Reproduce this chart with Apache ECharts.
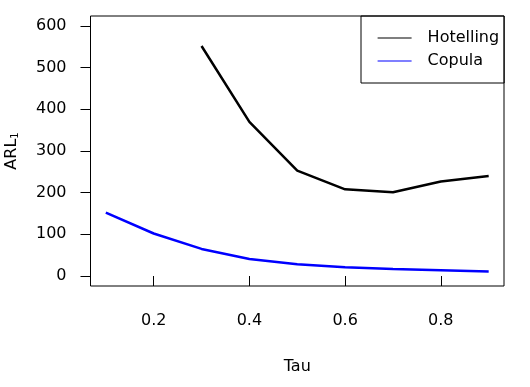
<!DOCTYPE html>
<html>
<head>
<meta charset="utf-8">
<script src="https://cdn.jsdelivr.net/npm/echarts@6/dist/echarts.min.js"></script>
<style>
html,body{margin:0;padding:0;background:#fff;}
#chart{width:530px;height:387px;}
</style>
</head>
<body>
<div id="chart"></div>
<script>
const tau = [0.1, 0.2, 0.3, 0.4, 0.5, 0.6, 0.7, 0.8, 0.9];
const hotelling = [null, null, 552, 370, 253, 208, 201, 227, 240];
const copula = [152, 102, 65, 41, 28, 21, 17, 14, 11];
const xTicks = [0.2, 0.4, 0.6, 0.8];
const yTicks = [0, 100, 200, 300, 400, 500, 600];

const FONT = 'DejaVu Sans';
const FS = 16;
const chart = echarts.init(document.getElementById('chart'));
const pairs = (ys) => tau.map((t, i) => [t, ys[i]]);

chart.setOption({
  animation: false,
  backgroundColor: '#fff',
  textStyle: { fontFamily: FONT, color: '#000' },
  grid: {
    left: 90.5, right: 26, top: 16, bottom: 101,
    containLabel: false, outerBoundsMode: 'none',
    show: true, borderColor: '#000', borderWidth: 1, backgroundColor: '#fff'
  },
  legend: {
    left: 361, top: 16,
    orient: 'vertical',
    borderColor: '#000', borderWidth: 1, borderRadius: 0,
    padding: [14, 5, 14, 16],
    itemWidth: 34, itemHeight: 14, itemGap: 7,
    itemStyle: { color: 'transparent', borderWidth: 0 },
    lineStyle: { width: 1.2 },
    textStyle: { fontFamily: FONT, fontSize: FS, color: '#000', padding: [0, 0, 0, 11] },
    data: ['Hotelling', 'Copula']
  },
  xAxis: {
    type: 'value',
    min: 0.068, max: 0.932,
    name: 'Tau', nameLocation: 'middle', nameGap: 73,
    nameTextStyle: { fontFamily: FONT, fontSize: FS, color: '#000' },
    axisLine: { show: false },
    splitLine: { show: false },
    axisTick: { show: true, length: 10, customValues: xTicks, lineStyle: { color: '#000' } },
    axisLabel: { customValues: xTicks, margin: 27, fontFamily: FONT, fontSize: FS, color: '#000',
      formatter: v => v.toFixed(1) }
  },
  yAxis: {
    type: 'value',
    min: -24, max: 624,
    name: 'ARL{sub|1}', nameLocation: 'middle', nameGap: 70, nameRotate: 90,
    nameTextStyle: { fontFamily: FONT, fontSize: FS, color: '#000',
      rich: { sub: { fontFamily: FONT, fontSize: 10, color: '#000', padding: [8, 0, 0, 0] } } },
    axisLine: { show: false },
    splitLine: { show: false },
    axisTick: { show: true, length: 10, customValues: yTicks, lineStyle: { color: '#000' } },
    axisLabel: { customValues: yTicks, margin: 24, fontFamily: FONT, fontSize: FS, color: '#000' }
  },
  series: [
    { name: 'Hotelling', type: 'line', data: pairs(hotelling), symbol: 'none',
      lineStyle: { color: '#000', width: 2.5 }, itemStyle: { color: '#000' }, connectNulls: false },
    { name: 'Copula', type: 'line', data: pairs(copula), symbol: 'none',
      lineStyle: { color: '#0000ff', width: 2.5 }, itemStyle: { color: '#0000ff' } }
  ]
});
</script>
</body>
</html>
